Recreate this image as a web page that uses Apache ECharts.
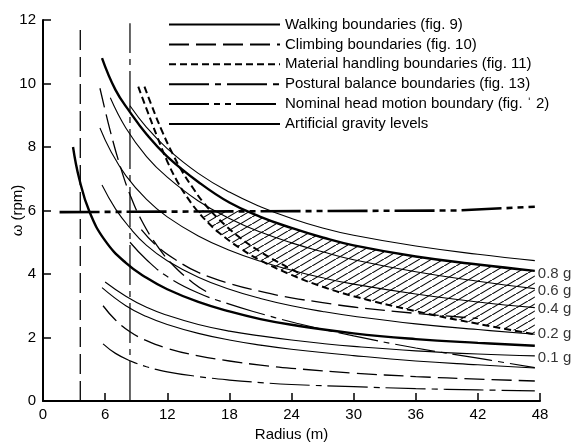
<!DOCTYPE html>
<html>
<head>
<meta charset="utf-8">
<script src="https://cdn.jsdelivr.net/npm/echarts/dist/echarts.min.js"></script>
<style>
  html, body { margin: 0; padding: 0; background: #fff; }
  #chart { width: 582px; height: 442px; }
</style>
</head>
<body>
<div id="chart"></div>
<script>
// axis ticks
const xTicks = [0, 6, 12, 18, 24, 30, 36, 42, 48];
const yTicks = [0, 2, 4, 6, 8, 10, 12];

// legend names
const names = [
  'Walking boundaries (fig. 9)',
  'Climbing boundaries (fig. 10)',
  'Material handling boundaries (fig. 11)',
  'Postural balance boundaries (fig. 13)',
  'Nominal head motion boundary (fig. \u02C8 2)',
  'Artificial gravity levels'
];

// walking boundaries [radius m, omega rpm]
const walkUpper = [[5.7,10.8],[7,9.8],[8.4,9.1],[10,8.4],[12,7.7],[15,6.9],[18,6.25],[21,5.8],[24,5.45],[27,5.15],[30,4.9],[36,4.55],[42,4.3],[47.5,4.1]];
const walkLower = [[2.9,8.0],[3.5,7.0],[4.5,5.95],[6,5.05],[8,4.35],[10,3.88],[12,3.52],[15,3.12],[18,2.82],[21,2.58],[24,2.4],[30,2.13],[36,1.95],[42,1.83],[47.5,1.74]];

// climbing boundaries
const climbVert = [[3.6,0],[3.6,11.9]];
const climbSteep = [[5.5,9.85],[6.5,8.5],[7.5,7.35],[8.4,6.5],[9.5,5.7],[11,4.9],[12.5,4.3],[14.5,3.72],[16,3.4]];
const climbMid = [[9.5,5.4],[11,4.88],[12.8,4.45],[15,4.05],[18,3.7],[21,3.45],[24,3.25],[27,3.1],[30,2.96],[36,2.76],[42,2.6]];
const climbLow = [[5.8,3.0],[7,2.55],[8.4,2.18],[10,1.9],[12,1.66],[15,1.42],[18,1.26],[21,1.13],[24,1.03],[30,0.88],[36,0.77],[42,0.69],[47.5,0.63]];

// material handling boundaries
const matLower = [[9.2,9.9],[10,9.2],[11,8.35],[12,7.55],[13,6.9],[14,6.38],[15,5.95],[16,5.6],[17,5.3],[19,4.82],[21,4.43],[24,3.97],[27,3.6],[30,3.3],[36,2.83],[42,2.43],[47.5,2.1]];
const matUpper = [[9.8,9.9],[10.5,9.3],[11.5,8.5],[12.5,7.8],[13.5,7.2],[14.5,6.7],[15.5,6.25],[17,5.72],[19,5.15],[21,4.7],[23,4.32],[25,3.98]];

// postural balance boundaries
const postVert = [[8.4,0],[8.4,11.9]];
const postMid = [[8.4,5.0],[10,4.45],[12,3.92],[15,3.4],[18,3.05],[20.3,2.82],[24.5,2.45],[30,2.05],[36,1.67],[42,1.35],[47.5,1.05]];
const postLow = [[5.8,1.8],[7,1.5],[8.4,1.27],[10,1.08],[12,0.92],[15,0.77],[18,0.66],[21,0.58],[24,0.52],[30,0.45],[36,0.39],[42,0.35],[47.5,0.32]];

// nominal head motion boundary
const headMotion = [[1.6,5.95],[40,6.0],[47.5,6.12]];

// artificial gravity levels
const gTop = [[8.4,9.3],[10,8.62],[12,7.95],[15,7.17],[18,6.58],[21,6.12],[24,5.75],[27,5.45],[30,5.22],[36,4.88],[42,4.62],[47.5,4.42]];
const g06 = [[6.5,9.55],[8,8.6],[10,7.7],[12,7.05],[15,6.3],[18,5.75],[21,5.32],[24,4.98],[27,4.7],[30,4.45],[36,4.07],[42,3.77],[47.5,3.54]];
const g04 = [[5.5,8.6],[6.5,7.9],[8,7.1],[10,6.35],[12,5.8],[15,5.2],[18,4.75],[21,4.4],[24,4.12],[27,3.88],[30,3.68],[36,3.37],[42,3.12],[47.5,2.94]];
const g02 = [[5.7,6.8],[7,6.05],[8.4,5.45],[10,4.9],[12,4.42],[15,3.9],[18,3.52],[21,3.23],[24,3.0],[27,2.82],[30,2.67],[36,2.43],[42,2.25],[47.5,2.1]];
const g01 = [[6,3.75],[8,3.3],[10,2.95],[12,2.7],[15,2.41],[18,2.2],[21,2.05],[24,1.92],[27,1.81],[30,1.72],[36,1.58],[42,1.48],[47.5,1.42]];
const gLow = [[5.7,3.57],[8,3.0],[10,2.66],[12,2.41],[15,2.13],[18,1.92],[21,1.76],[24,1.63],[30,1.43],[36,1.26],[42,1.14],[47.5,1.04]];

// gravity level labels at the right edge
const gLabelText = ['0.8 g', '0.6 g', '0.4 g', '0.2 g', '0.1 g'];
const gLabelY = [4.0, 3.47, 2.9, 2.1, 1.36];
const gLabelX = 47.6;

// comfort zone (hatched): left corner along the head motion line
const hatchTop = [[15,6.0],[19.6,6.0]];

const FONT = 'Liberation Sans, Arial, sans-serif';

const styles = {
  walk: { width: 2.4, type: 'solid' },
  climb: { width: 1.3, type: [20, 7] },
  material: { width: 2, type: [7, 4] },
  postural: { width: 1.2, type: [40, 6, 6, 6] },
  head: { width: 2.6, type: [40, 5, 6, 5, 6, 5] },
  gravity: { width: 1.1, type: 'solid' }
};

function curve(name, data, style, smooth) {
  return {
    type: 'line',
    name: name,
    data: data,
    symbol: 'none',
    smooth: smooth === false ? false : 0.45,
    lineStyle: Object.assign({ color: '#000' }, style),
    itemStyle: { color: '#000' },
    silent: true,
    z: 3
  };
}

// hatch pattern
const pc = document.createElement('canvas');
pc.width = 12; pc.height = 7;
const ctx = pc.getContext('2d');
ctx.strokeStyle = '#000';
ctx.lineWidth = 1.1;
ctx.beginPath();
ctx.moveTo(-1, 7.6);
ctx.lineTo(13, -0.6);
ctx.stroke();

const hatchSeries = {
  type: 'custom',
  name: 'comfort',
  silent: true,
  z: 1,
  data: [0],
  renderItem: function (params, api) {
    const right = hatchTop[hatchTop.length - 1][0];
    const left = hatchTop[0][0];
    const top = hatchTop.concat(walkUpper.filter(p => p[0] > right));
    const bottom = matLower.filter(p => p[0] >= left).reverse();
    const pts = top.concat(bottom).map(p => api.coord(p));
    return {
      type: 'polygon',
      shape: { points: pts },
      style: { fill: { image: pc, repeat: 'repeat' }, stroke: null }
    };
  }
};

const labelSeries = {
  type: 'scatter',
  name: 'gLabels',
  silent: true,
  symbolSize: 0,
  data: gLabelY.map((y, i) => ({ value: [gLabelX, y], name: gLabelText[i] })),
  label: {
    show: true,
    position: 'right',
    distance: 2,
    formatter: p => p.name,
    color: '#000',
    fontSize: 15,
    fontFamily: FONT
  },
  clip: false
};

const chart = echarts.init(document.getElementById('chart'), null, { renderer: 'canvas' });

chart.setOption({
  animation: false,
  backgroundColor: '#fff',
  grid: { left: 43, right: 42, top: 20, bottom: 41, containLabel: false, outerBoundsMode: 'none' },
  legend: {
    data: names,
    orient: 'vertical',
    left: 168,
    top: 17,
    padding: 0,
    itemWidth: 111,
    itemHeight: 14,
    itemGap: 4.9,
    selectedMode: false,
    itemStyle: { opacity: 0 },
    textStyle: { fontSize: 15, color: '#000', fontFamily: FONT }
  },
  xAxis: {
    type: 'value',
    min: xTicks[0],
    max: xTicks[xTicks.length - 1],
    interval: xTicks[1] - xTicks[0],
    name: 'Radius (m)',
    nameLocation: 'middle',
    nameGap: 26,
    nameMoveOverlap: false,
    nameTextStyle: { fontSize: 15, color: '#000', fontFamily: FONT },
    axisLine: { lineStyle: { color: '#000', width: 2 } },
    axisTick: { inside: true, length: 8, lineStyle: { color: '#000', width: 1.5 } },
    axisLabel: { fontSize: 15, color: '#000', fontFamily: FONT, margin: 6 },
    splitLine: { show: false }
  },
  yAxis: {
    type: 'value',
    min: yTicks[0],
    max: yTicks[yTicks.length - 1],
    interval: yTicks[1] - yTicks[0],
    name: '\u03C9 (rpm)',
    nameLocation: 'middle',
    nameRotate: 90,
    nameGap: 18,
    nameMoveOverlap: false,
    nameTextStyle: { fontSize: 15, color: '#000', fontFamily: FONT },
    axisLine: { show: true, lineStyle: { color: '#000', width: 2 } },
    axisTick: { show: true, inside: true, length: 8, lineStyle: { color: '#000', width: 1.5 } },
    axisLabel: { fontSize: 15, color: '#000', fontFamily: FONT, margin: 7 },
    splitLine: { show: false }
  },
  series: [
    hatchSeries,
    curve(names[0], walkUpper, styles.walk),
    curve(names[0], walkLower, styles.walk),
    curve(names[1], climbVert, styles.climb, false),
    curve(names[1], climbSteep, styles.climb),
    curve(names[1], climbMid, styles.climb),
    curve(names[1], climbLow, styles.climb),
    curve(names[2], matLower, styles.material),
    curve(names[2], matUpper, styles.material),
    curve(names[3], postVert, styles.postural, false),
    curve(names[3], postMid, styles.postural),
    curve(names[3], postLow, styles.postural),
    curve(names[4], headMotion, styles.head, false),
    curve(names[5], gTop, styles.gravity),
    curve(names[5], g06, styles.gravity),
    curve(names[5], g04, styles.gravity),
    curve(names[5], g02, styles.gravity),
    curve(names[5], g01, styles.gravity),
    curve(names[5], gLow, styles.gravity),
    labelSeries
  ]
});
</script>
</body>
</html>
